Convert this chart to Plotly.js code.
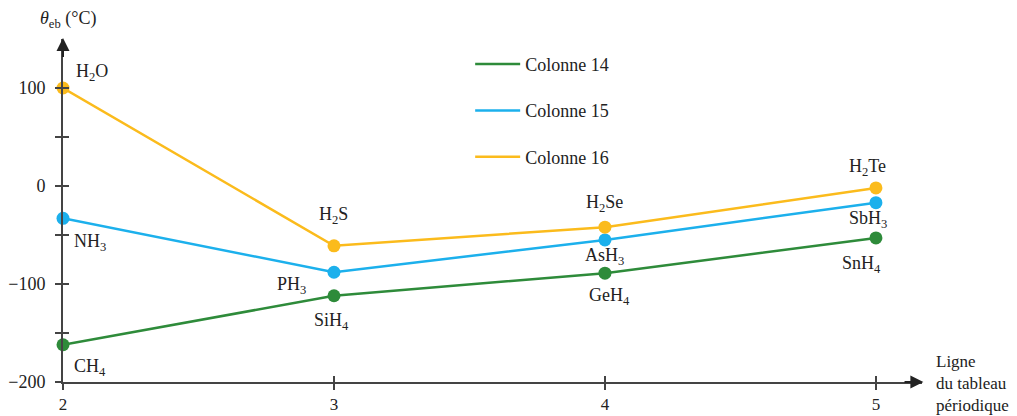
<!DOCTYPE html>
<html>
<head>
<meta charset="utf-8">
<script src="https://cdn.plot.ly/plotly-3.0.1.min.js"></script>
<style>html,body{margin:0;padding:0;background:#fff;}#chart{width:1017px;height:416px;}</style>
</head>
<body>
<div id="chart"></div>
<script>
const rows = [2, 3, 4, 5];
const seriesNames = ['Colonne 14', 'Colonne 15', 'Colonne 16'];
const col14 = [-162, -112, -89, -53];
const col15 = [-33, -88, -55, -17];
const col16 = [100, -61, -42, -2];
const labels14 = ['CH<sub>4</sub>', 'SiH<sub>4</sub>', 'GeH<sub>4</sub>', 'SnH<sub>4</sub>'];
const labels15 = ['NH<sub>3</sub>', 'PH<sub>3</sub>', 'AsH<sub>3</sub>', 'SbH<sub>3</sub>'];
const labels16 = ['H<sub>2</sub>O', 'H<sub>2</sub>S', 'H<sub>2</sub>Se', 'H<sub>2</sub>Te'];
const yTickVals = [-200, -150, -100, -50, 0, 50, 100];
const yTickText = ['\u2212200', '', '\u2212100', '', '0', '', '100'];
const xTickVals = [2, 3, 4, 5];

const colors = ['#2e8b3a', '#1cb0ec', '#fbbb1c'];
const serif = '"Liberation Serif", "Times New Roman", Times, serif';
const axisColor = '#444444';
const textColor = '#222222';

const values = [col14, col15, col16];
const traces = [];
values.forEach((v, i) => {
  traces.push({
    x: rows, y: v, type: 'scatter', mode: 'lines',
    name: seriesNames[i], legendgroup: 'g' + i,
    line: {color: colors[i], width: 2.5}, hoverinfo: 'skip'
  });
});
values.forEach((v, i) => {
  traces.push({
    x: rows, y: v, type: 'scatter', mode: 'markers',
    name: seriesNames[i], legendgroup: 'g' + i, showlegend: false,
    marker: {color: colors[i], size: 13}, cliponaxis: false, hoverinfo: 'skip'
  });
});
traces.push({x: [], y: [], xaxis: 'x2', yaxis: 'y2', showlegend: false, hoverinfo: 'skip', type: 'scatter'});

// label offsets in pixels [xshift, yshift]
const off14 = [[27, -23], [-2, -26], [5, -23], [-14, -27]];
const off15 = [[27, -24], [-42, -13], [0, -17], [-8, -17]];
const off16 = [[29, 16], [0, 30], [0, 24], [-8, 20]];
const allLabels = [labels14, labels15, labels16];
const allOff = [off14, off15, off16];
const annotations = [];
allLabels.forEach((lab, s) => {
  lab.forEach((t, k) => {
    annotations.push({
      x: rows[k], y: values[s][k], xref: 'x', yref: 'y', text: t, showarrow: false,
      xshift: allOff[s][k][0], yshift: allOff[s][k][1],
      font: {family: serif, size: 18, color: textColor}
    });
  });
});
// axis arrows
annotations.push({x: 5.175, y: -200, ax: 5.1, ay: -200, xref: 'x', yref: 'y', axref: 'x', ayref: 'y',
  text: '', showarrow: true, arrowhead: 2, arrowsize: 1.3, arrowwidth: 2, arrowcolor: textColor});
annotations.push({x: 2, y: 151, ax: 2, ay: 130, xref: 'x', yref: 'y', axref: 'x', ayref: 'y',
  text: '', showarrow: true, arrowhead: 2, arrowsize: 1.3, arrowwidth: 2, arrowcolor: textColor});
// axis titles
annotations.push({x: 2, y: 1, xref: 'x', yref: 'paper', yanchor: 'bottom', xanchor: 'center', xshift: 5, yshift: 6,
  text: '<i>θ</i><sub>eb</sub> (°C)', showarrow: false, font: {family: serif, size: 18, color: textColor}});
annotations.push({x: 1, y: 0, xref: 'paper', yref: 'paper', xanchor: 'left', yanchor: 'middle', xshift: 12, yshift: -1,
  text: 'Ligne<br>du tableau<br>périodique', align: 'left', showarrow: false, font: {family: serif, size: 17, color: textColor}});

const layout = {
  width: 1017, height: 416,
  margin: {l: 63, r: 95, t: 39, b: 34},
  paper_bgcolor: '#fff', plot_bgcolor: '#fff',
  font: {family: serif, size: 18, color: textColor},
  showlegend: true,
  legend: {x: 0.474, y: 0.98, xanchor: 'left', yanchor: 'top', traceorder: 'grouped', tracegroupgap: 20,
    itemwidth: 45,
    font: {family: serif, size: 18, color: textColor}, bgcolor: 'rgba(0,0,0,0)'},
  xaxis: {range: [2, 5.17], showgrid: false, zeroline: false, showline: true, linecolor: axisColor, linewidth: 2,
    tickmode: 'array', tickvals: xTickVals, ticks: 'outside', ticklen: 6, tickwidth: 1.5, tickcolor: axisColor,
    ticklabelstandoff: 0, tickfont: {family: serif, size: 17, color: textColor}},
  yaxis: {range: [-200, 150], showgrid: false, zeroline: false, showline: true, linecolor: axisColor, linewidth: 2,
    tickmode: 'array', tickvals: yTickVals, ticktext: yTickText, ticks: 'outside', ticklen: 6, tickwidth: 1.5, tickcolor: axisColor,
    ticklabelstandoff: 6, tickfont: {family: serif, size: 18, color: textColor}},
  xaxis2: {overlaying: 'x', anchor: 'y2', range: [2, 5.17], showgrid: false, zeroline: false, showline: false,
    tickmode: 'array', tickvals: xTickVals, ticks: 'inside', ticklen: 6, tickwidth: 1.5, tickcolor: axisColor, showticklabels: false, side: 'bottom'},
  yaxis2: {overlaying: 'y', anchor: 'x2', range: [-200, 150], showgrid: false, zeroline: false, showline: false,
    tickmode: 'array', tickvals: yTickVals, ticks: 'inside', ticklen: 6, tickwidth: 1.5, tickcolor: axisColor, showticklabels: false, side: 'left'},
  annotations: annotations
};
Plotly.newPlot('chart', traces, layout, {displayModeBar: false, staticPlot: true});
</script>
</body>
</html>
